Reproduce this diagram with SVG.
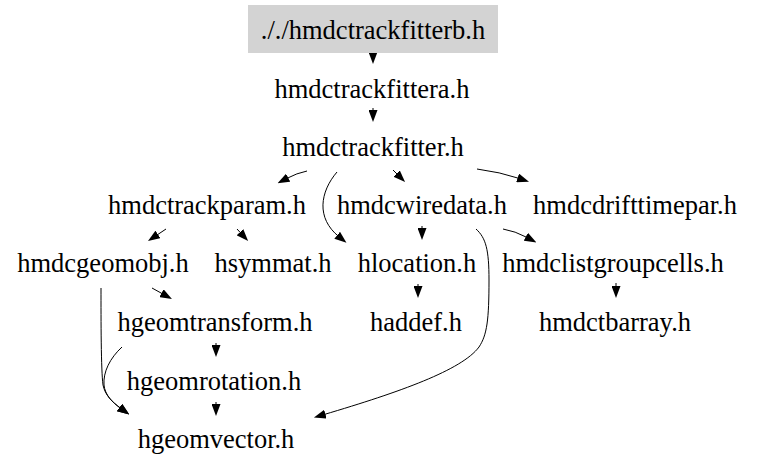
<svg xmlns="http://www.w3.org/2000/svg" width="757" height="469" viewBox="0 0 757 469">
<defs>
<style>
text{font-size:26.5px;fill:#000;text-anchor:middle}
.e{fill:none;stroke:#000;stroke-width:1}
</style>
<marker id="ah" markerUnits="userSpaceOnUse" viewBox="0 0 12 9" markerWidth="12" markerHeight="9" refX="2" refY="4.5" orient="auto">
<path d="M0,0 L12,4.5 L0,9 z" fill="#000"/>
</marker>
</defs>
<rect width="757" height="469" fill="#fff"/>
<g id="connectors">
<path class="e" marker-end="url(#ah)" d="M373,53 L373,54"/>
<path class="e" marker-end="url(#ah)" d="M373,108 L373,112"/>
<path class="e" marker-end="url(#ah)" d="M307,171 Q297,173 286.4,178.6"/>
<path class="e" marker-end="url(#ah)" d="M337,172 C320,192 316,218 338.7,236.5"/>
<path class="e" marker-end="url(#ah)" d="M393,170 L398,175"/>
<path class="e" marker-end="url(#ah)" d="M477,169 Q500,172 519.5,178.5"/>
<path class="e" marker-end="url(#ah)" d="M166,229 L156.3,235.5"/>
<path class="e" marker-end="url(#ah)" d="M237,229 L241.3,233.6"/>
<path class="e" marker-end="url(#ah)" d="M422,226 L422,230"/>
<path class="e" marker-end="url(#ah)" d="M503,229 Q515,231 527.6,237.7"/>
<path class="e" marker-end="url(#ah)" d="M476,229 C486,238 489,250 489,280 C489,320 487,335 479,347 C462,370 400,392 323.5,414.7"/>
<path class="e" marker-end="url(#ah)" d="M152,288 L163.2,294.2"/>
<path class="e" marker-end="url(#ah)" d="M101,288 C101,320 101,370 103,385 C105,395 112,402 121.2,408.7"/>
<path class="e" marker-end="url(#ah)" d="M122,347 C110,358 103,372 104,385 C105,395 112,402 121.2,408.7"/>
<path class="e" marker-end="url(#ah)" d="M216,343 L216,347"/>
<path class="e" marker-end="url(#ah)" d="M216,402 L216,406"/>
<path class="e" marker-end="url(#ah)" d="M418,284 L418,288"/>
<path class="e" marker-end="url(#ah)" d="M616,283 L616,288"/>
</g>
<g font-family="'Liberation Serif', 'Times New Roman', 'DejaVu Serif', serif">
<g id="node-hmdctrackfitterb"><rect x="248" y="5" width="250" height="48" fill="#d3d3d3"/><text x="373" y="39">././hmdctrackfitterb.h</text></g>
<g id="node-hmdctrackfittera"><text x="372" y="98">hmdctrackfittera.h</text></g>
<g id="node-hmdctrackfitter"><text x="373" y="156">hmdctrackfitter.h</text></g>
<g id="node-hmdctrackparam"><text x="207" y="214">hmdctrackparam.h</text></g>
<g id="node-hmdcwiredata"><text x="422" y="214">hmdcwiredata.h</text></g>
<g id="node-hmdcdrifttimepar"><text x="635" y="214">hmdcdrifttimepar.h</text></g>
<g id="node-hmdcgeomobj"><text x="103" y="272">hmdcgeomobj.h</text></g>
<g id="node-hsymmat"><text x="273" y="272">hsymmat.h</text></g>
<g id="node-hlocation"><text x="417" y="272">hlocation.h</text></g>
<g id="node-hmdclistgroupcells"><text x="613" y="272">hmdclistgroupcells.h</text></g>
<g id="node-hgeomtransform"><text x="215" y="331">hgeomtransform.h</text></g>
<g id="node-haddef"><text x="416" y="331">haddef.h</text></g>
<g id="node-hmdctbarray"><text x="615" y="331">hmdctbarray.h</text></g>
<g id="node-hgeomrotation"><text x="214" y="390">hgeomrotation.h</text></g>
<g id="node-hgeomvector"><text x="216" y="448">hgeomvector.h</text></g>
</g>
</svg>
